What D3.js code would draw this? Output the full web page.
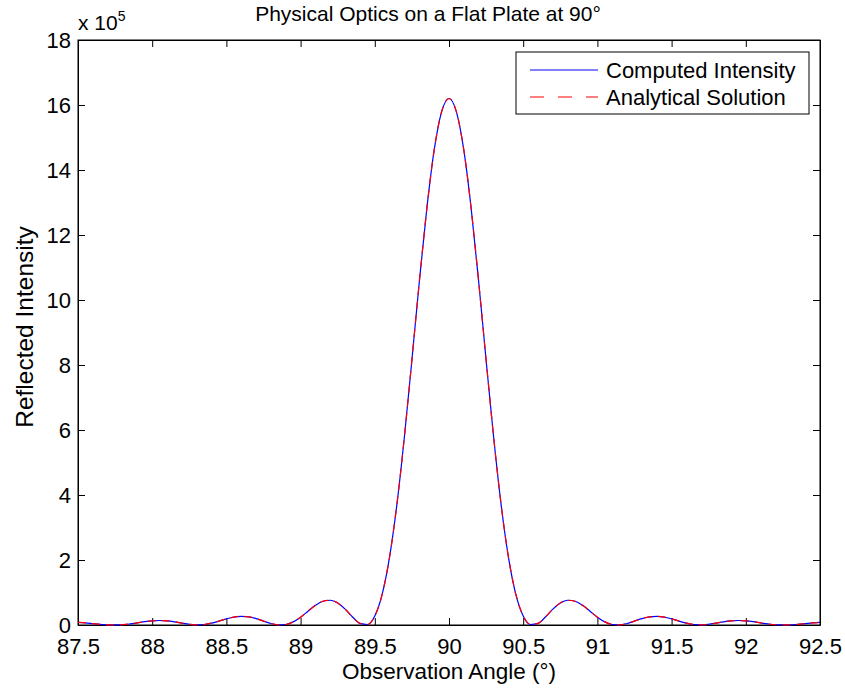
<!DOCTYPE html>
<html>
<head>
<meta charset="utf-8">
<script src="https://cdn.jsdelivr.net/npm/d3@7"></script>
<style>
  body { margin: 0; background: white; }
  svg text { font-family: "Liberation Sans", Arial, sans-serif; fill: black; }
</style>
</head>
<body>
<script>
// observation angle grid, degrees (step 0.05)
var angles = d3.range(0, 101).map(function(i) { return +(87.5 + i * 0.05).toFixed(2); });

// reflected intensity, units of 1e5
var computedIntensity = [
  0.078,0.063,0.041,0.019,0.003,0.001,0.008,0.032,0.065,0.101,
  0.127,0.138,0.127,0.099,0.060,0.023,0.002,0.015,0.058,0.121,
  0.189,0.243,0.267,0.251,0.198,0.121,0.047,0.003,0.015,0.096,
  0.241,0.424,0.604,0.730,0.762,0.676,0.487,0.246,0.049,0.015,
  0.278,0.950,2.104,3.749,5.814,8.155,10.56,12.79,14.61,15.79,
  16.2,
  15.79,14.61,12.79,10.56,8.155,5.814,3.749,2.104,0.950,0.278,
  0.015,0.049,0.246,0.487,0.676,0.762,0.730,0.604,0.424,0.241,
  0.096,0.015,0.003,0.047,0.121,0.198,0.251,0.267,0.243,0.189,
  0.121,0.058,0.015,0.002,0.023,0.060,0.099,0.127,0.138,0.127,
  0.101,0.065,0.032,0.008,0.001,0.003,0.019,0.041,0.063,0.078
];
var analyticalIntensity = [
  0.078,0.063,0.041,0.019,0.003,0.001,0.008,0.032,0.065,0.101,
  0.127,0.138,0.127,0.099,0.060,0.023,0.002,0.015,0.058,0.121,
  0.189,0.243,0.267,0.251,0.198,0.121,0.047,0.003,0.015,0.096,
  0.241,0.424,0.604,0.730,0.762,0.676,0.487,0.246,0.049,0.015,
  0.278,0.950,2.104,3.749,5.814,8.155,10.56,12.79,14.61,15.79,
  16.2,
  15.79,14.61,12.79,10.56,8.155,5.814,3.749,2.104,0.950,0.278,
  0.015,0.049,0.246,0.487,0.676,0.762,0.730,0.604,0.424,0.241,
  0.096,0.015,0.003,0.047,0.121,0.198,0.251,0.267,0.243,0.189,
  0.121,0.058,0.015,0.002,0.023,0.060,0.099,0.127,0.138,0.127,
  0.101,0.065,0.032,0.008,0.001,0.003,0.019,0.041,0.063,0.078
];

var xTicks = [87.5, 88, 88.5, 89, 89.5, 90, 90.5, 91, 91.5, 92, 92.5];
var yTicks = [0, 2, 4, 6, 8, 10, 12, 14, 16, 18];
var legendLabels = ["Computed Intensity", "Analytical Solution"];

var width = 845, height = 689;
var margin = {top: 40, right: 25, bottom: 64, left: 78};
var fs = 22;

var svg = d3.select("body").append("svg")
    .attr("width", width)
    .attr("height", height);

var x = d3.scaleLinear()
    .domain([87.5, 92.5])
    .range([margin.left, width - margin.right]);

var y = d3.scaleLinear()
    .domain([0, 18])
    .range([height - margin.bottom, margin.top]);

var tk = 7;

// axes, ticks pointing inward on every side
svg.append("g")
    .attr("transform", "translate(0," + y(0) + ")")
    .call(d3.axisBottom(x).tickValues(xTicks).tickSizeInner(-tk).tickSizeOuter(0).tickPadding(13).tickFormat(d3.format("")))
    .call(function(g) { g.selectAll("text").style("font-size", fs + "px"); });

svg.append("g")
    .attr("transform", "translate(0," + y(18) + ")")
    .call(d3.axisTop(x).tickValues(xTicks).tickSizeInner(-tk).tickSizeOuter(0).tickFormat(""));

svg.append("g")
    .attr("transform", "translate(" + x(87.5) + ",0)")
    .call(d3.axisLeft(y).tickValues(yTicks).tickSizeInner(-tk).tickSizeOuter(0).tickPadding(7))
    .call(function(g) { g.selectAll("text").style("font-size", fs + "px"); });

svg.append("g")
    .attr("transform", "translate(" + x(92.5) + ",0)")
    .call(d3.axisRight(y).tickValues(yTicks).tickSizeInner(-tk).tickSizeOuter(0).tickFormat(""));

svg.selectAll(".domain").attr("stroke", "black");
svg.selectAll(".tick line").attr("stroke", "black");

svg.append("rect")
    .attr("x", x(87.5)).attr("y", y(18))
    .attr("width", x(92.5) - x(87.5)).attr("height", y(0) - y(18))
    .attr("fill", "none").attr("stroke", "black");

var line = d3.line()
    .x(function(d, i) { return x(angles[i]); })
    .y(function(d) { return y(d); })
    .curve(d3.curveMonotoneX);

svg.append("path")
    .datum(computedIntensity)
    .attr("fill", "none")
    .attr("stroke", "#0000ff")
    .attr("stroke-width", 1.2)
    .attr("d", line);

svg.append("path")
    .datum(analyticalIntensity)
    .attr("fill", "none")
    .attr("stroke", "#ff0000")
    .attr("stroke-width", 1.2)
    .attr("stroke-dasharray", "8,6")
    .attr("d", line);

// exponent label
var ex = svg.append("text")
    .attr("x", x(87.5))
    .attr("y", 30)
    .style("font-size", "21px");
ex.append("tspan").text("x 10");
ex.append("tspan").attr("dy", -9).style("font-size", "14px").text("5");

// title and axis labels
svg.append("text")
    .attr("x", 428)
    .attr("y", 21)
    .attr("text-anchor", "middle")
    .style("font-size", "21px")
    .text("Physical Optics on a Flat Plate at 90°");

svg.append("text")
    .attr("x", x(90))
    .attr("y", 679)
    .attr("text-anchor", "middle")
    .style("font-size", "22.5px")
    .text("Observation Angle (°)");

svg.append("text")
    .attr("transform", "translate(33,327) rotate(-90)")
    .attr("text-anchor", "middle")
    .style("font-size", "24.5px")
    .text("Reflected Intensity");

// legend
var lg = svg.append("g");
lg.append("rect")
    .attr("x", 516).attr("y", 52)
    .attr("width", 293).attr("height", 62)
    .attr("fill", "white").attr("stroke", "black");

var colors = ["#0000ff", "#ff0000"];
var dashes = [null, "14,14"];
legendLabels.forEach(function(lab, i) {
    var ly = 70 + i * 27;
    lg.append("line")
        .attr("x1", 530).attr("x2", 598)
        .attr("y1", ly).attr("y2", ly)
        .attr("stroke", colors[i])
        .attr("stroke-width", 1.2)
        .attr("stroke-dasharray", dashes[i]);
    lg.append("text")
        .attr("x", 606).attr("y", ly + 8)
        .style("font-size", fs + "px")
        .text(lab);
});
</script>
</body>
</html>
